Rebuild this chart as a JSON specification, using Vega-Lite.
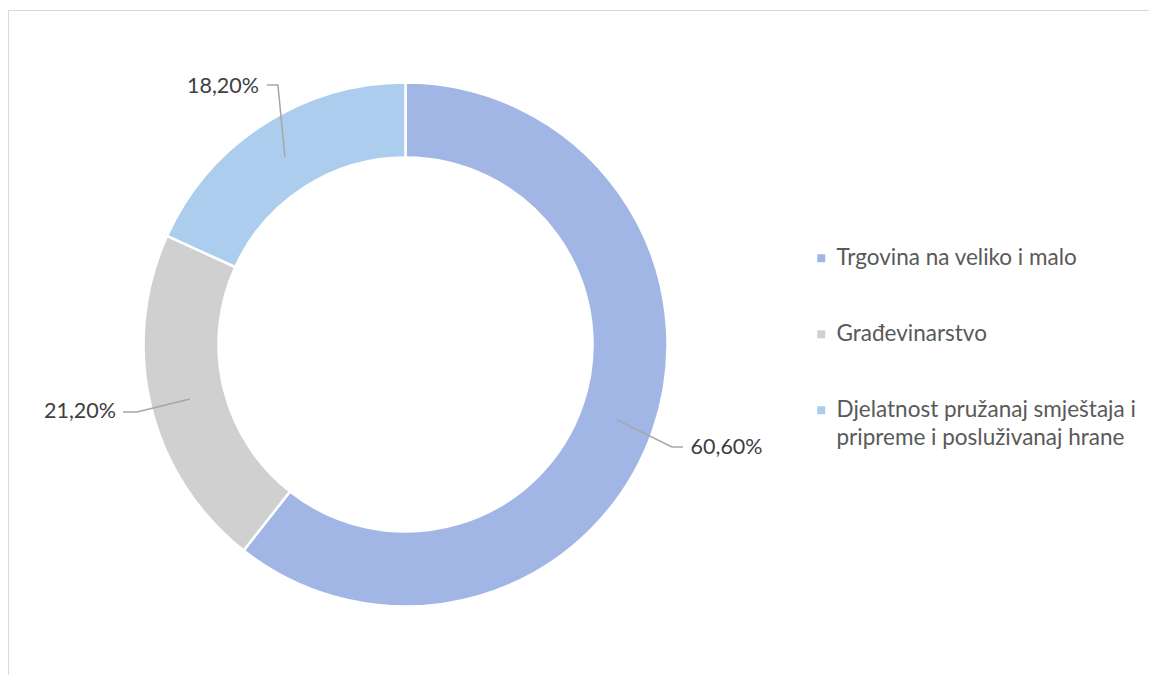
{
  "$schema": "https://vega.github.io/schema/vega-lite/v6.json",
  "autosize": "none",
  "width": 1141,
  "height": 665,
  "padding": {"left": 8, "top": 10, "right": 0, "bottom": 0},
  "background": "white",
  "config": {
    "view": {"stroke": "#d9d9d9", "strokeWidth": 1},
    "font": "Lato",
    "style": {"guide-label": {"lineHeight": 28}}
  },
  "datasets": {
    "slices": [
      {"category": "Trgovina na veliko i malo", "value": 60.6, "ord": 1},
      {"category": "Građevinarstvo", "value": 21.2, "ord": 2},
      {"category": "Djelatnost pružanaj smještaja i pripreme i posluživanaj hrane", "value": 18.2, "ord": 3}
    ],
    "leaders": [
      {"category": "Trgovina na veliko i malo", "step": 1, "u": 0.807, "v": -0.288},
      {"category": "Trgovina na veliko i malo", "step": 2, "u": 1.017, "v": -0.391},
      {"category": "Trgovina na veliko i malo", "step": 3, "u": 1.059, "v": -0.391},
      {"category": "Građevinarstvo", "step": 1, "u": -0.823, "v": -0.208},
      {"category": "Građevinarstvo", "step": 2, "u": -1.025, "v": -0.258},
      {"category": "Građevinarstvo", "step": 3, "u": -1.078, "v": -0.258},
      {"category": "Djelatnost", "step": 1, "u": -0.46, "v": 0.716},
      {"category": "Djelatnost", "step": 2, "u": -0.487, "v": 0.99},
      {"category": "Djelatnost", "step": 3, "u": -0.529, "v": 0.99}
    ],
    "labels": [
      {"label": "60,60%", "u": 1.088, "v": -0.395, "side": "left"},
      {"label": "21,20%", "u": -1.105, "v": -0.258, "side": "right"},
      {"label": "18,20%", "u": -0.559, "v": 0.983, "side": "right"}
    ]
  },
  "layer": [
    {
      "data": {"name": "slices"},
      "mark": {"type": "arc", "outerRadius": 262, "innerRadius": 187, "stroke": "white", "strokeWidth": 2.5},
      "encoding": {
        "x": {"datum": 0, "type": "quantitative", "scale": {"domain": [-1.5172, 2.8378], "nice": false, "zero": false}, "axis": null},
        "y": {"datum": 0, "type": "quantitative", "scale": {"domain": [-1.2615, 1.2767], "nice": false, "zero": false}, "axis": null},
        "theta": {"field": "value", "type": "quantitative", "stack": true},
        "order": {"field": "ord", "type": "quantitative"},
        "color": {
          "field": "category",
          "type": "nominal",
          "scale": {
            "domain": ["Trgovina na veliko i malo", "Građevinarstvo", "Djelatnost pružanaj smještaja i pripreme i posluživanaj hrane"],
            "range": ["#a2b6e6", "#d0d0d0", "#accdee"]
          },
          "legend": {
            "orient": "none",
            "legendX": 802,
            "legendY": 237,
            "title": null,
            "symbolType": "square",
            "symbolSize": 64,
            "symbolStrokeWidth": 0,
            "symbolOpacity": 1,
            "labelFont": "Lato",
            "labelFontSize": 22.5,
            "labelColor": "#595959",
            "labelLimit": 400,
            "labelOffset": 4,
            "rowPadding": 53,
            "labelExpr": "datum.label == 'Djelatnost pružanaj smještaja i pripreme i posluživanaj hrane' ? ['Djelatnost pružanaj smještaja i', 'pripreme i posluživanaj hrane'] : datum.label"
          }
        }
      }
    },
    {
      "data": {"name": "leaders"},
      "mark": {"type": "line", "stroke": "#a6a6a6", "strokeWidth": 1.5},
      "encoding": {
        "x": {"field": "u", "type": "quantitative"},
        "y": {"field": "v", "type": "quantitative"},
        "detail": {"field": "category"},
        "order": {"field": "step", "type": "quantitative"}
      }
    },
    {
      "data": {"name": "labels"},
      "transform": [{"filter": "datum.side == 'left'"}],
      "mark": {"type": "text", "align": "left", "baseline": "middle", "fontSize": 21.5, "font": "Lato", "color": "#404040"},
      "encoding": {
        "x": {"field": "u", "type": "quantitative"},
        "y": {"field": "v", "type": "quantitative"},
        "text": {"field": "label"}
      }
    },
    {
      "data": {"name": "labels"},
      "transform": [{"filter": "datum.side == 'right'"}],
      "mark": {"type": "text", "align": "right", "baseline": "middle", "fontSize": 21.5, "font": "Lato", "color": "#404040"},
      "encoding": {
        "x": {"field": "u", "type": "quantitative"},
        "y": {"field": "v", "type": "quantitative"},
        "text": {"field": "label"}
      }
    }
  ]
}
